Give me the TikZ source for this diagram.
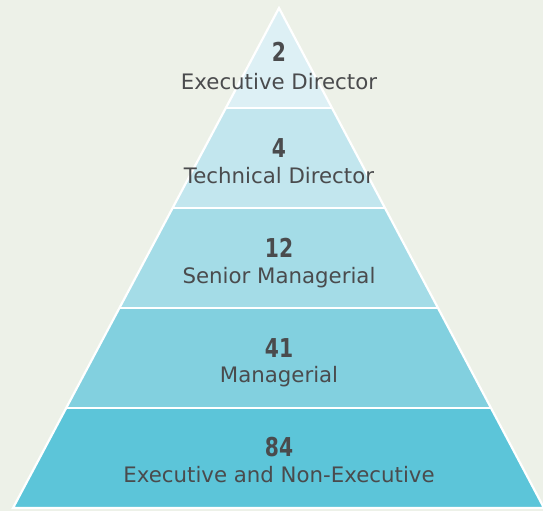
\documentclass[tikz,border=0pt]{standalone}
\usepackage{fontspec}
\setmainfont{DejaVu Sans}
\usetikzlibrary{calc}
\definecolor{bg}{HTML}{EDF1E8}
\definecolor{txt}{HTML}{4A4B4D}
\definecolor{lA}{HTML}{DDF0F5}
\definecolor{lB}{HTML}{C2E6EE}
\definecolor{lC}{HTML}{A4DCE7}
\definecolor{lD}{HTML}{82D0DF}
\definecolor{lE}{HTML}{5CC5D9}
\newcommand{\pyrnum}[1]{\scalebox{0.78}[1]{#1}}
\begin{document}
\begin{tikzpicture}[x=1pt,y=-1pt,
  num/.style={font=\fontsize{26}{28}\selectfont\bfseries, text=txt, anchor=base, inner sep=0pt},
  lab/.style={font=\fontsize{21.3}{23}\selectfont, text=txt, anchor=base, inner sep=0pt},
  sep/.style={draw=white, line width=2.2pt}]
\fill[bg] (0,0) rectangle (543,511);
\useasboundingbox (0,0) rectangle (543,511);
\coordinate (apex) at (279,8);
\coordinate (bl) at (13,508);
\coordinate (br) at (544,508);
\foreach \t/\c [remember=\t as \p (initially 0)] in {0.2/lA,0.4/lB,0.6/lC,0.8/lD,1.0/lE}{
  \fill[\c] ($(apex)!\p!(bl)$) -- ($(apex)!\t!(bl)$) -- ($(apex)!\t!(br)$) -- ($(apex)!\p!(br)$) -- cycle;
}
\foreach \t in {0.2,0.4,0.6,0.8}{
  \draw[sep] ($(apex)!\t!(bl)$) -- ($(apex)!\t!(br)$);
}
\draw[sep, line join=miter] (bl) -- (apex) -- (br) -- cycle;
\node[num] (n1) at (279,62) {\pyrnum{2}};
\node[lab] (t1) at (279,89) {Executive Director};
\node[num] (n2) at (279,157) {\pyrnum{4}};
\node[lab] (t2) at (279,183) {Technical Director};
\node[num] (n3) at (279,257) {\pyrnum{12}};
\node[lab] (t3) at (279,283) {Senior Managerial};
\node[num] (n4) at (279,357) {\pyrnum{41}};
\node[lab] (t4) at (279,382) {Managerial};
\node[num] (n5) at (279,456) {\pyrnum{84}};
\node[lab] (t5) at (279,482) {Executive and Non-Executive};
\end{tikzpicture}
\end{document}
